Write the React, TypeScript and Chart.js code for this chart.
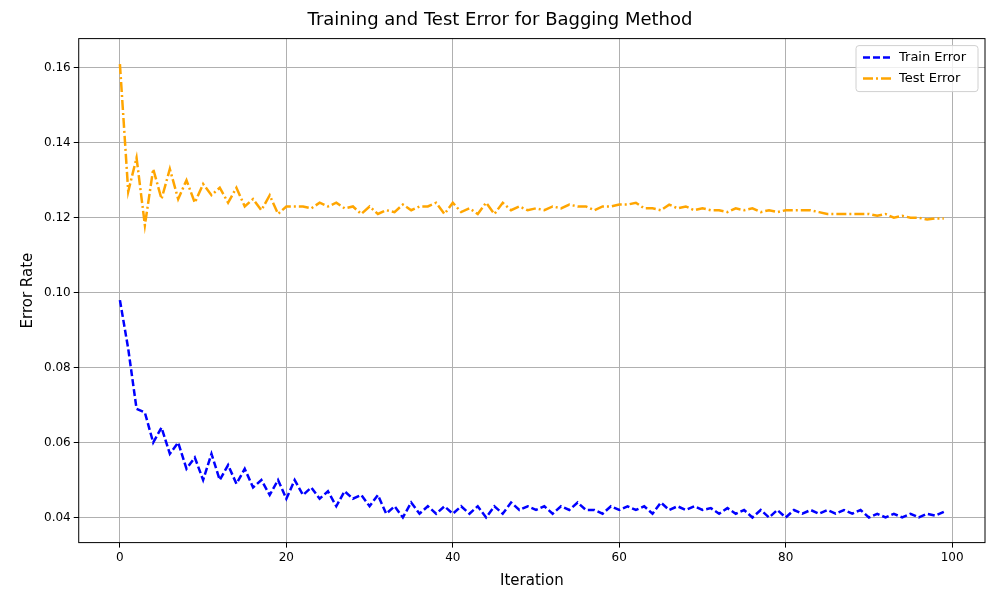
import { useEffect, useRef } from 'react'
import { Chart, registerables } from 'chart.js'

Chart.register(...registerables)

const ITERATIONS = Array.from({ length: 100 }, (_, i) => i)

const TRAIN_ERROR = [
  0.098, 0.085, 0.069, 0.068, 0.060, 0.064, 0.057, 0.060, 0.053, 0.056,
  0.050, 0.057, 0.050, 0.054, 0.049, 0.053, 0.048, 0.050, 0.046, 0.050,
  0.045, 0.050, 0.046, 0.048, 0.045, 0.047, 0.043, 0.047, 0.045, 0.046,
  0.043, 0.046, 0.041, 0.043, 0.040, 0.044, 0.041, 0.043, 0.041, 0.043,
  0.041, 0.043, 0.041, 0.043, 0.040, 0.043, 0.041, 0.044, 0.042, 0.043,
  0.042, 0.043, 0.041, 0.043, 0.042, 0.044, 0.042, 0.042, 0.041, 0.043,
  0.042, 0.043, 0.042, 0.043, 0.041, 0.044, 0.042, 0.043, 0.042, 0.043,
  0.042, 0.0425, 0.041, 0.0425, 0.041, 0.042, 0.040, 0.042, 0.040, 0.042,
  0.040, 0.042, 0.041, 0.042, 0.041, 0.042, 0.041, 0.042, 0.041, 0.042,
  0.040, 0.041, 0.040, 0.041, 0.040, 0.041, 0.040, 0.041, 0.0405, 0.0415,
]

const TEST_ERROR = [
  0.161, 0.127, 0.136, 0.118, 0.133, 0.125, 0.133, 0.125, 0.130, 0.124,
  0.129, 0.126, 0.128, 0.124, 0.128, 0.123, 0.125, 0.122, 0.126, 0.121,
  0.123, 0.123, 0.123, 0.1225, 0.124, 0.123, 0.124, 0.1225, 0.123, 0.121,
  0.123, 0.121, 0.122, 0.1215, 0.1235, 0.122, 0.123, 0.123, 0.124, 0.121,
  0.124, 0.1215, 0.1225, 0.121, 0.124, 0.121, 0.124, 0.122, 0.123, 0.122,
  0.1225, 0.122, 0.123, 0.1225, 0.1235, 0.123, 0.123, 0.122, 0.123, 0.123,
  0.1235, 0.1235, 0.124, 0.1225, 0.1225, 0.122, 0.1235, 0.1225, 0.123, 0.122,
  0.1225, 0.122, 0.122, 0.1215, 0.1225, 0.122, 0.1225, 0.1215, 0.122, 0.1215,
  0.122, 0.122, 0.122, 0.122, 0.1215, 0.121, 0.121, 0.121, 0.121, 0.121,
  0.121, 0.1205, 0.121, 0.120, 0.1205, 0.120, 0.120, 0.1195, 0.1198, 0.1198,
]

const X_TICKS = [0, 20, 40, 60, 80, 100]
const Y_TICKS = [0.04, 0.06, 0.08, 0.1, 0.12, 0.14, 0.16]

const FONT = 'DejaVu Sans'

// frame + legend drawn inside the plot, matplotlib style
const framePlugin = {
  id: 'frame',
  afterDatasetsDraw(chart: Chart) {
    const { ctx, chartArea: a } = chart
    ctx.save()
    ctx.strokeStyle = '#000'
    ctx.lineWidth = 1
    ctx.strokeRect(a.left, a.top, a.right - a.left, a.bottom - a.top)

    const w = 122, h = 46
    const x = a.right - w - 7, y = a.top + 7
    ctx.fillStyle = 'rgba(255,255,255,0.8)'
    ctx.strokeStyle = '#d0d0d0'
    ctx.beginPath()
    ctx.roundRect(x, y, w, h, 3)
    ctx.fill()
    ctx.stroke()
    ctx.font = `13px ${FONT}`
    ctx.textBaseline = 'middle'
    const items = [
      { label: 'Train Error', color: 'blue', dash: [7, 3] },
      { label: 'Test Error', color: 'orange', dash: [10, 3, 2, 3] },
    ]
    items.forEach((it, i) => {
      const ly = y + 12 + i * 21
      ctx.strokeStyle = it.color
      ctx.lineWidth = 2.5
      ctx.setLineDash(it.dash)
      ctx.beginPath()
      ctx.moveTo(x + 7, ly)
      ctx.lineTo(x + 35, ly)
      ctx.stroke()
      ctx.setLineDash([])
      ctx.fillStyle = '#000'
      ctx.fillText(it.label, x + 43, ly)
    })
    ctx.restore()
  },
}

export default function App() {
  const canvasRef = useRef<HTMLCanvasElement>(null)

  useEffect(() => {
    document.body.style.margin = '0'
    if (!canvasRef.current) return
    const chart = new Chart(canvasRef.current, {
      type: 'line',
      data: {
        datasets: [
          {
            label: 'Train Error',
            data: ITERATIONS.map((x, i) => ({ x, y: TRAIN_ERROR[i] })),
            borderColor: 'blue',
            borderWidth: 2.5,
            borderDash: [7, 3],
            pointRadius: 0,
            tension: 0,
          },
          {
            label: 'Test Error',
            data: ITERATIONS.map((x, i) => ({ x, y: TEST_ERROR[i] })),
            borderColor: 'orange',
            borderWidth: 2.5,
            borderDash: [10, 3, 2, 3],
            pointRadius: 0,
            tension: 0,
          },
        ],
      },
      options: {
        animation: false,
        responsive: false,
        layout: { padding: { left: 15, right: 15, top: 4, bottom: 6 } },
        plugins: {
          legend: { display: false },
          tooltip: { enabled: false },
          title: {
            display: true,
            text: 'Training and Test Error for Bagging Method',
            color: '#000',
            font: { family: FONT, size: 18, weight: 'normal' },
            padding: { top: 6, bottom: 7 },
          },
        },
        scales: {
          x: {
            type: 'linear',
            min: -4.95,
            max: 103.95,
            afterBuildTicks: (s) => {
              s.ticks = X_TICKS.map((value) => ({ value }))
            },
            grid: { color: '#b0b0b0', tickColor: '#000', tickLength: 5 },
            border: { display: false },
            ticks: { color: '#000', font: { family: FONT, size: 12 }, maxRotation: 0 },
            title: {
              display: true,
              text: 'Iteration',
              color: '#000',
              font: { family: FONT, size: 15 },
            },
          },
          y: {
            min: 0.0333,
            max: 0.1678,
            afterBuildTicks: (s) => {
              s.ticks = Y_TICKS.map((value) => ({ value }))
            },
            grid: { color: '#b0b0b0', tickColor: '#000', tickLength: 5 },
            border: { display: false },
            ticks: {
              color: '#000',
              font: { family: FONT, size: 12 },
              callback: (v) => Number(v).toFixed(2),
            },
            title: {
              display: true,
              text: 'Error Rate',
              color: '#000',
              font: { family: FONT, size: 15 },
            },
          },
        },
      },
      plugins: [framePlugin],
    })
    return () => chart.destroy()
  }, [])

  return <canvas ref={canvasRef} width={1000} height={600} />
}
